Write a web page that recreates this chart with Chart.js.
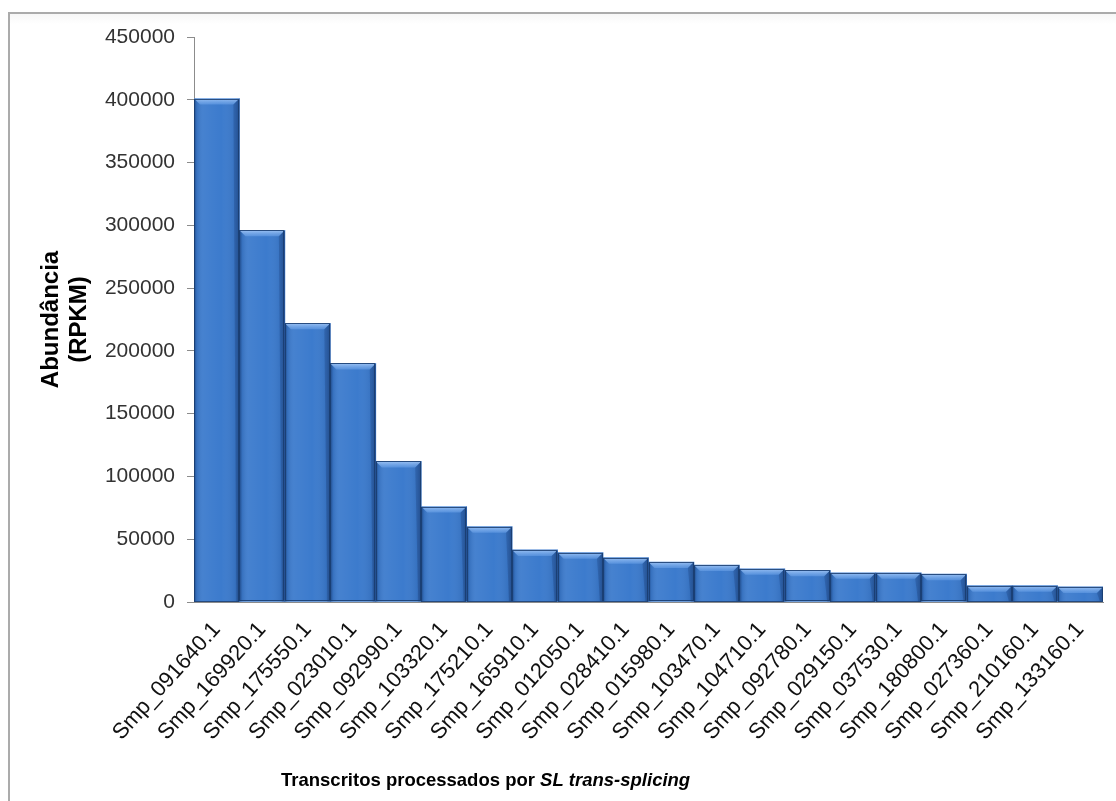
<!DOCTYPE html>
<html>
<head>
<meta charset="utf-8">
<script src="https://cdn.jsdelivr.net/npm/chart.js@4/dist/chart.umd.min.js"></script>
<style>
  html, body { margin: 0; padding: 0; background: #fff; overflow: hidden; }
  #frame {
    position: absolute; left: 8px; top: 12px; width: 1300px; height: 1000px;
    border: 2px solid #ababab; box-sizing: border-box;
    background: linear-gradient(#f7f7f7 0px, #ffffff 10px);
  }
  #wrap { position: absolute; left: 0; top: 0; width: 1116px; height: 801px; }
</style>
</head>
<body>
<div id="frame"></div>
<div id="wrap"><canvas id="c" width="1116" height="801"></canvas></div>
<script>
// Transcripts processed by SL trans-splicing and their abundance (RPKM)
const transcripts = [
  'Smp_091640.1', 'Smp_169920.1', 'Smp_175550.1', 'Smp_023010.1', 'Smp_092990.1',
  'Smp_103320.1', 'Smp_175210.1', 'Smp_165910.1', 'Smp_012050.1', 'Smp_028410.1',
  'Smp_015980.1', 'Smp_103470.1', 'Smp_104710.1', 'Smp_092780.1', 'Smp_029150.1',
  'Smp_037530.1', 'Smp_180800.1', 'Smp_027360.1', 'Smp_210160.1', 'Smp_133160.1'
];
const abundance = [
  401000, 296000, 222000, 190000, 112000,
  76000, 60000, 41500, 39300, 35300,
  31800, 29500, 26500, 25200, 23200,
  23200, 22200, 13000, 13000, 12000
];
const yMin = 0, yMax = 450000, yStep = 50000;

const yTitleLines = ['Abundância', '(RPKM)'];
const xTitlePlain = 'Transcritos processados por ';
const xTitleItalic = 'SL trans-splicing';

const FONT = '"Liberation Sans", Arial, sans-serif';

// Beveled, shaded look for each bar, drawn over the bar elements
const bevelPlugin = {
  id: 'bevel',
  afterDatasetsDraw(chart) {
    const ctx = chart.ctx;
    const meta = chart.getDatasetMeta(0);
    ctx.save();
    meta.data.forEach(bar => {
      const p = bar.getProps(['x', 'y', 'base', 'width'], true);
      const l = p.x - p.width / 2, r = p.x + p.width / 2;
      const t = p.y, b = p.base;
      // horizontal shading
      const g = ctx.createLinearGradient(l, 0, r, 0);
      g.addColorStop(0, 'rgba(10,35,80,0.55)');
      g.addColorStop(0.06, 'rgba(10,35,80,0.12)');
      g.addColorStop(0.2, 'rgba(255,255,255,0.05)');
      g.addColorStop(0.6, 'rgba(255,255,255,0.0)');
      g.addColorStop(0.9, 'rgba(10,35,80,0.1)');
      g.addColorStop(1, 'rgba(10,35,80,0.4)');
      ctx.fillStyle = g;
      ctx.fillRect(l, t, r - l, b - t);
      // top bevel
      const bv = Math.min(6, (b - t) / 2);
      const tg = ctx.createLinearGradient(0, t, 0, t + bv);
      tg.addColorStop(0, 'rgba(170,205,250,0.85)');
      tg.addColorStop(1, 'rgba(110,165,235,0.5)');
      ctx.fillStyle = tg;
      ctx.beginPath();
      ctx.moveTo(l, t); ctx.lineTo(r, t);
      ctx.lineTo(r - bv, t + bv); ctx.lineTo(l + bv, t + bv);
      ctx.closePath(); ctx.fill();
      // right side bevel
      ctx.fillStyle = 'rgba(25,60,115,0.3)';
      ctx.beginPath();
      ctx.moveTo(r, t); ctx.lineTo(r, b); ctx.lineTo(r - 3, b); ctx.lineTo(r - bv, t + bv);
      ctx.closePath(); ctx.fill();
      // outline
      ctx.strokeStyle = 'rgba(25,60,110,0.85)';
      ctx.lineWidth = 1;
      ctx.strokeRect(Math.round(l) + 0.5, Math.round(t) + 0.5, Math.round(r - l) - 1, Math.round(b - t) - 1);
    });
    ctx.restore();
  }
};

// Mixed-style axis title under the category axis
const xTitlePlugin = {
  id: 'xTitle',
  afterDraw(chart) {
    const ctx = chart.ctx;
    const x0 = chart.chartArea.left + 87;
    const y0 = 786;
    ctx.save();
    ctx.fillStyle = '#000';
    ctx.textBaseline = 'alphabetic';
    ctx.textAlign = 'left';
    ctx.font = 'bold 18.5px ' + FONT;
    ctx.fillText(xTitlePlain, x0, y0);
    const w = ctx.measureText(xTitlePlain).width;
    ctx.font = 'italic bold 18.5px ' + FONT;
    ctx.fillText(xTitleItalic, x0 + w, y0);
    ctx.restore();
  }
};

new Chart(document.getElementById('c'), {
  type: 'bar',
  data: {
    labels: transcripts,
    datasets: [{
      data: abundance,
      backgroundColor: '#3c7bcd',
      borderWidth: 0,
      barPercentage: 1.0,
      categoryPercentage: 1.0
    }]
  },
  options: {
    responsive: false,
    animation: false,
    devicePixelRatio: 1,
    layout: { padding: { top: 37, right: 13, left: 0, bottom: 0 } },
    plugins: { legend: { display: false }, tooltip: { enabled: false } },
    scales: {
      x: {
        afterFit(scale) { scale.height = 199; },
        grid: { display: false },
        border: { display: true, color: '#8c8c8c', width: 1 },
        ticks: {
          autoSkip: false, maxRotation: 48, minRotation: 48,
          color: '#111', padding: 7,
          font: { family: FONT, size: 22 }
        }
      },
      y: {
        min: yMin, max: yMax,
        afterFit(scale) { scale.width = 194; },
        grid: { display: true, drawOnChartArea: false, drawTicks: true, tickLength: 7, color: '#8c8c8c' },
        border: { display: true, color: '#8c8c8c', width: 1 },
        ticks: {
          stepSize: yStep, padding: 12, color: '#333',
          font: { family: FONT, size: 21 },
          callback: v => String(v)
        },
        title: {
          display: true, text: yTitleLines, color: '#000',
          font: { family: FONT, size: 24, weight: 'bold', lineHeight: 1.15 },
          padding: { top: 38, bottom: 0 }
        }
      }
    }
  },
  plugins: [bevelPlugin, xTitlePlugin]
});
</script>
</body>
</html>
